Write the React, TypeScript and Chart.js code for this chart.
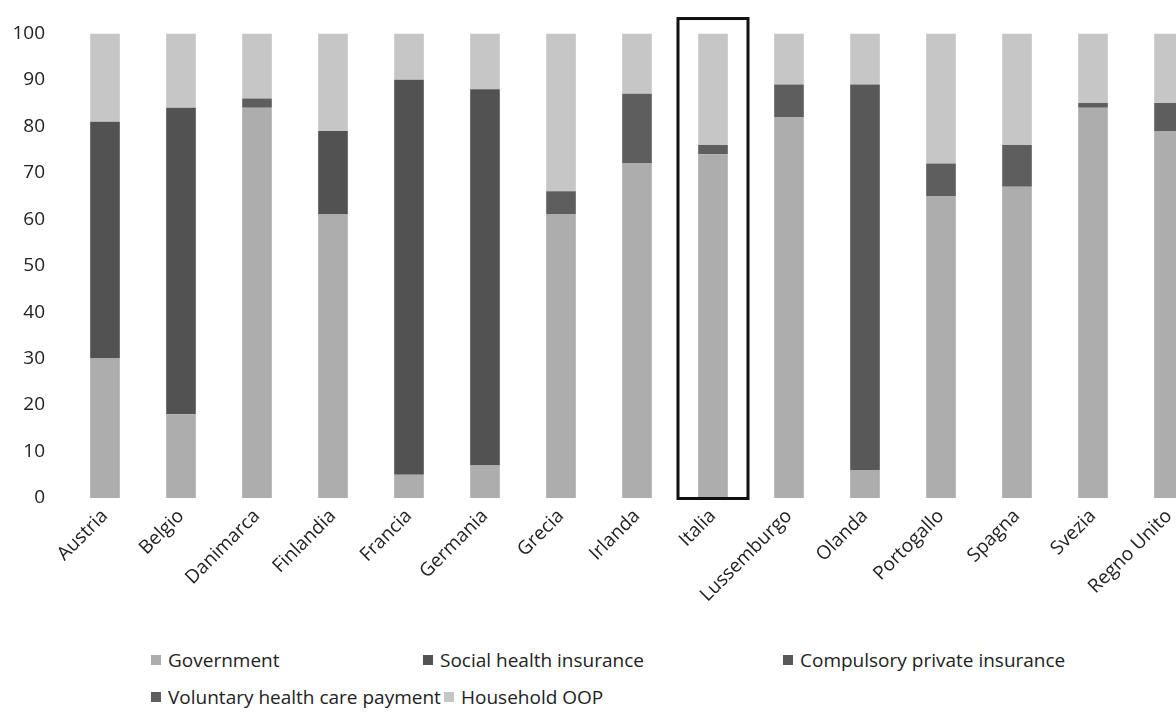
import React, { useEffect, useRef } from "react";
import { Chart, registerables } from "chart.js";

Chart.register(...registerables);

const countries = [
  "Austria", "Belgio", "Danimarca", "Finlandia", "Francia", "Germania", "Grecia",
  "Irlanda", "Italia", "Lussemburgo", "Olanda", "Portogallo", "Spagna", "Svezia", "Regno Unito",
];

const government = [30, 18, 84, 61, 5, 7, 61, 72, 74, 82, 6, 65, 67, 84, 79];
const socialHealthInsurance = [51, 66, 0, 18, 85, 81, 0, 0, 0, 0, 0, 0, 0, 0, 0];
const compulsoryPrivate = [0, 0, 0, 0, 0, 0, 0, 0, 0, 0, 83, 0, 0, 0, 0];
const voluntary = [0, 0, 2, 0, 0, 0, 5, 15, 2, 7, 0, 7, 9, 1, 6];
const householdOOP = [19, 16, 14, 21, 10, 12, 34, 13, 24, 11, 11, 28, 24, 15, 15];

const yTicks = [0, 10, 20, 30, 40, 50, 60, 70, 80, 90, 100];
const highlighted = "Italia";

const seriesNames = [
  "Government",
  "Social health insurance",
  "Compulsory private insurance",
  "Voluntary health care payment",
  "Household OOP",
];
const seriesColors = ["#adadad", "#525252", "#585858", "#5e5e5e", "#c6c6c6"];

const FONT = "'Open Sans', 'Noto Sans', sans-serif";
const TEXT = "#222222";

const legendPos = [
  { left: 151, top: 648 },
  { left: 423, top: 648 },
  { left: 783, top: 648 },
  { left: 151, top: 685 },
  { left: 444, top: 685 },
];

const highlightPlugin = {
  id: "highlightBox",
  afterDatasetsDraw(chart: any) {
    const xs = chart.scales.x;
    const ys = chart.scales.y;
    const idx = countries.indexOf(highlighted);
    if (idx < 0) return;
    const cx = xs.getPixelForValue(idx);
    const ctx = chart.ctx;
    ctx.save();
    ctx.strokeStyle = "#111";
    ctx.lineWidth = 3;
    const top = ys.getPixelForValue(103.2);
    const bottom = ys.getPixelForValue(0) + 0.5;
    ctx.strokeRect(cx - 35, top, 70, bottom - top);
    ctx.restore();
  },
};

export default function App() {
  const ref = useRef<HTMLCanvasElement>(null);

  useEffect(() => {
    if (!ref.current) return;
    const values = [government, socialHealthInsurance, compulsoryPrivate, voluntary, householdOOP];
    const chart = new Chart(ref.current, {
      type: "bar",
      data: {
        labels: countries,
        datasets: seriesNames.map((name, i) => ({
          label: name,
          data: values[i],
          backgroundColor: seriesColors[i],
          borderWidth: 0,
          barPercentage: 0.39,
          categoryPercentage: 1,
        })),
      },
      options: {
        responsive: false,
        animation: false,
        layout: { padding: { top: 30, left: 0, right: 5, bottom: 0 } },
        plugins: { legend: { display: false }, tooltip: { enabled: false } },
        scales: {
          x: {
            stacked: true,
            grid: { display: false, drawTicks: false },
            border: { display: false },
            ticks: {
              autoSkip: false,
              minRotation: 45,
              maxRotation: 45,
              padding: 7,
              color: TEXT,
              font: { family: FONT, size: 19 },
            },
            afterFit(scale: any) {
              scale.height = 132;
            },
          },
          y: {
            stacked: true,
            min: 0,
            max: 100,
            afterBuildTicks(scale: any) {
              scale.ticks = yTicks.map((v) => ({ value: v }));
            },
            grid: { display: false, drawTicks: false },
            border: { display: false },
            ticks: {
              padding: 22,
              color: TEXT,
              font: { family: FONT, size: 19 },
            },
            afterFit(scale: any) {
              scale.width = 67;
            },
          },
        },
      },
      plugins: [highlightPlugin],
    });
    return () => chart.destroy();
  }, []);

  return (
    <div
      style={{
        position: "absolute",
        left: 0,
        top: 0,
        width: 1176,
        height: 715,
        overflow: "hidden",
        background: "#fff",
        fontFamily: FONT,
      }}
    >
      <canvas ref={ref} width={1212} height={630} style={{ width: 1212, height: 630, display: "block" }} />
      {seriesNames.map((name, i) => (
        <div
          key={name}
          style={{
            position: "absolute",
            left: legendPos[i].left,
            top: legendPos[i].top,
            display: "flex",
            alignItems: "center",
            whiteSpace: "nowrap",
            fontSize: 19,
            lineHeight: "24px",
            color: TEXT,
          }}
        >
          <span
            style={{
              display: "inline-block",
              width: 10,
              height: 10,
              background: seriesColors[i],
              marginRight: 7,
            }}
          />
          {name}
        </div>
      ))}
    </div>
  );
}
